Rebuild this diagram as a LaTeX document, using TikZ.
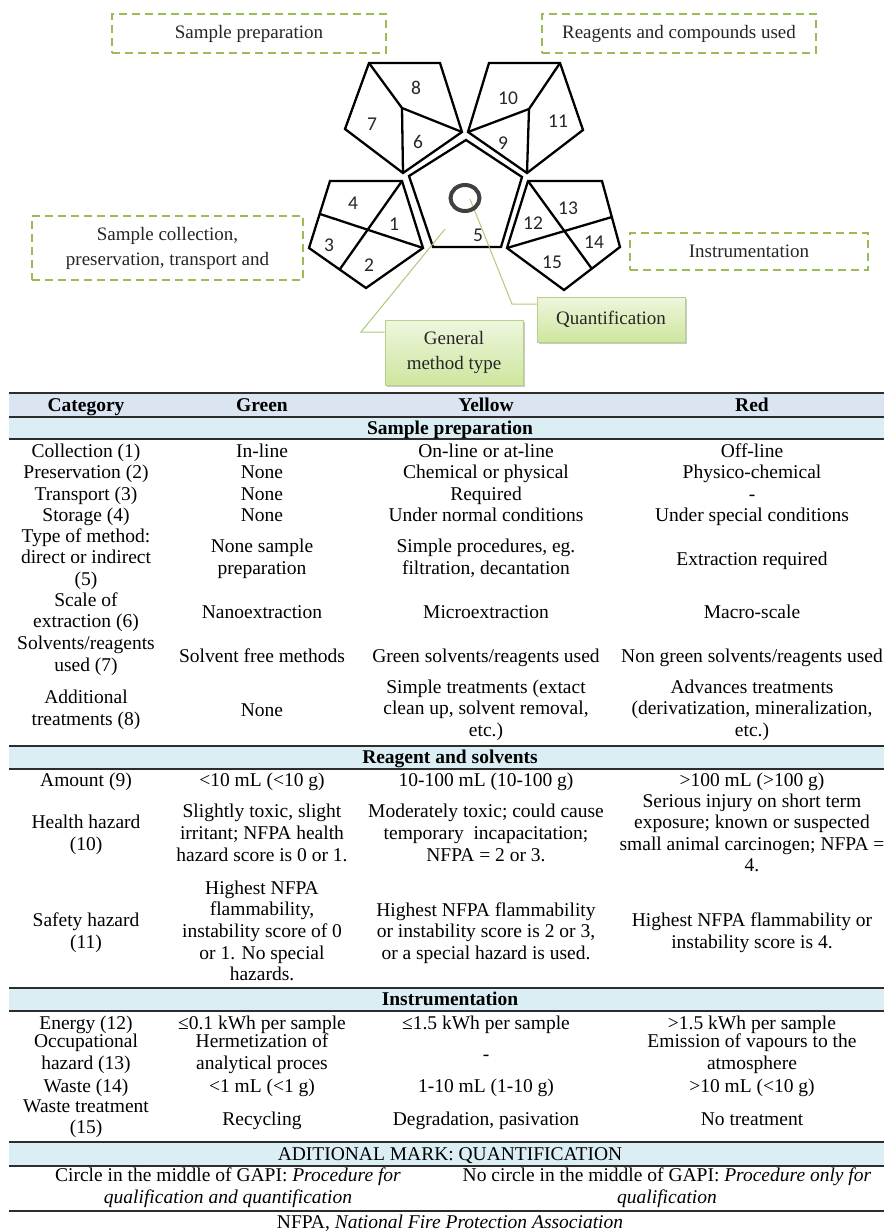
\documentclass[tikz,border=0pt]{standalone}
\usepackage{fontspec}
\setmainfont{Liberation Serif}
\newfontfamily\numfont{Carlito}
\usepackage{xcolor}
\usepackage{tikz}
\usetikzlibrary{shapes.geometric,shadows}

\definecolor{gapigreen}{RGB}{155,187,89}
\definecolor{calloutline}{RGB}{172,202,122}
\definecolor{calltop}{RGB}{238,246,222}
\definecolor{callbot}{RGB}{206,230,158}
\definecolor{hdrfill}{RGB}{219,229,241}
\definecolor{bandfill}{RGB}{218,238,243}
\definecolor{rulegray}{RGB}{45,45,45}
\newcommand{\tabfont}{\fontsize{19.5}{21.6}\selectfont}
\newcommand{\boxfont}{\fontsize{19}{25}\selectfont}
\newcommand{\cellstrut}{\rule[-4.5pt]{0pt}{21.3pt}}

\begin{document}
\begin{tikzpicture}[x=1pt, y=-1pt,
  groupbox/.style={draw=gapigreen, line width=2.4pt, dash pattern=on 8pt off 5pt, font=\boxfont, text=black!85, align=center, inner sep=0pt},
  callbox/.style={draw=gapigreen!70, line width=0.8pt, top color=calltop, bottom color=callbot, drop shadow={shadow xshift=2pt, shadow yshift=-2pt, opacity=0.35, fill=black!60}, font=\boxfont, text=black!85, align=center, inner sep=0pt},
  callout/.style={calloutline, line width=1pt},
  pent/.style={line width=2.3pt, line join=miter},
  ring/.style={draw=black!75, line width=4pt, ellipse, minimum width=29pt, minimum height=26pt, inner sep=0pt},
  num/.style={font=\numfont\fontsize{19.5}{20}\selectfont, text=black!85, inner sep=0pt},
  cell/.style={font=\tabfont, align=center, inner sep=0pt, execute at begin node=\cellstrut, execute at end node=\cellstrut},
  hdr/.style={cell, font=\tabfont\bfseries},
  rulethick/.style={rulegray, line width=1.6pt},
  rulethin/.style={rulegray, line width=1.1pt},
]
  \path[use as bounding box, fill=white] (0,0) rectangle (884,1231);

  % Group labels
  \node[groupbox, minimum width=274pt, minimum height=39pt] (sprep) at (249,33.5) {Sample preparation};
  \node[groupbox, minimum width=274pt, minimum height=39pt] (reag) at (679,33.5) {Reagents and compounds used};
  \node[groupbox, minimum width=271pt, minimum height=64pt] (scoll) at (167.5,248) {Sample collection,\\preservation, transport and};
  \node[groupbox, minimum width=238pt, minimum height=37pt] (instr) at (749,251.5) {Instrumentation};

  % Pentagons
  \draw[pent] (369,63) -- (440,63) -- (462,132) -- (403,173) -- (345,129) -- cycle;
  \draw[pent] (369,63) -- (402,108) -- (462,132);
  \draw[pent] (402,108) -- (403,173);

  \draw[pent] (489,63) -- (560,63) -- (583,130) -- (527,173) -- (468,132) -- cycle;
  \draw[pent] (560,63) -- (529,109) -- (468,132);
  \draw[pent] (529,109) -- (527,173);

  \draw[pent] (466,140) -- (522,177) -- (501,247) -- (433,247) -- (409,176) -- cycle;

  \draw[pent] (330,181) -- (402,181) -- (423,248) -- (366,288) -- (309,248) -- cycle;
  \draw[pent] (402,181) -- (340,269);
  \draw[pent] (320,214) -- (423,248);

  \draw[pent] (528,181) -- (602,181) -- (620,247) -- (564,290) -- (507,248) -- cycle;
  \draw[pent] (528,181) -- (592,269);
  \draw[pent] (612,217) -- (507,248);

  % Field numbers
  \node[num] (n1) at (394,224) {1};
  \node[num] (n2) at (369,265) {2};
  \node[num] (n3) at (329,245) {3};
  \node[num] (n4) at (353,203) {4};
  \node[num] (n5) at (478,235) {5};
  \node[num] (n6) at (418,142) {6};
  \node[num] (n7) at (372,124) {7};
  \node[num] (n8) at (416,88) {8};
  \node[num] (n9) at (503,143) {9};
  \node[num] (n10) at (508,98) {10};
  \node[num] (n11) at (558,121) {11};
  \node[num] (n12) at (533,223) {12};
  \node[num] (n13) at (568,208) {13};
  \node[num] (n14) at (594,242) {14};
  \node[num] (n15) at (552,262) {15};

  % Callouts
  \node[callbox, minimum width=148pt, minimum height=45pt] (quant) at (611,319.5) {Quantification};
  \node[callbox, minimum width=138pt, minimum height=65pt] (gmt) at (454,352.5) {General\\method type};
  \coordinate (qctr) at (470,199);
  \coordinate (qbend) at (512,304);
  \coordinate (gtip) at (445,229);
  \coordinate (gbend) at (361,332);
  \draw[callout] (qctr) -- (qbend) -- (qbend -| quant.west);
  \draw[callout] (gtip) -- (gbend) -- (gbend -| gmt.west);
  \node[ring] (qring) at (465,198) {};

  % Table bands and rules
  \fill[hdrfill] (9,393) rectangle (884,417);
  \fill[bandfill] (9,417) rectangle (884,439);
  \fill[bandfill] (9,746) rectangle (884,769);
  \fill[bandfill] (9,988) rectangle (884,1011);
  \fill[bandfill] (9,1142) rectangle (884,1166);
  \foreach \yy in {393,746,988,1142,1211} \draw[rulethick] (9,\yy) -- (884,\yy);
  \foreach \yy in {417,439,769,1011,1166} \draw[rulethin] (9,\yy) -- (884,\yy);

  % Header
  \node[hdr] (hcat) at (86,405) {Category};
  \node[hdr] (hgrn) at (262,405) {Green};
  \node[hdr] (hyel) at (486,405) {Yellow};
  \node[hdr] (hred) at (752,405) {Red};

  % Sample preparation
  \node[hdr] (bsp) at (450,428) {Sample preparation};
  \node[cell] (c1) at (86,451) {Collection (1)};
  \node[cell] (g1) at (262,451) {In-line};
  \node[cell] (y1) at (486,451) {On-line or at-line};
  \node[cell] (r1) at (752,451) {Off-line};
  \node[cell] (c2) at (86,472.6) {Preservation (2)};
  \node[cell] (g2) at (262,472.6) {None};
  \node[cell] (y2) at (486,472.6) {Chemical or physical};
  \node[cell] (r2) at (752,472.6) {Physico-chemical};
  \node[cell] (c3) at (86,494.2) {Transport (3)};
  \node[cell] (g3) at (262,494.2) {None};
  \node[cell] (y3) at (486,494.2) {Required};
  \node[cell] (r3) at (752,494.2) {-};
  \node[cell] (c4) at (86,515.8) {Storage (4)};
  \node[cell] (g4) at (262,515.8) {None};
  \node[cell] (y4) at (486,515.8) {Under normal conditions};
  \node[cell] (r4) at (752,515.8) {Under special conditions};
  \node[cell] (c5) at (86,559) {Type of method:\\direct or indirect\\(5)};
  \node[cell] (g5) at (262,559) {None sample\\preparation};
  \node[cell] (y5) at (486,559) {Simple procedures, eg.\\filtration, decantation};
  \node[cell] (r5) at (752,559) {Extraction required};
  \node[cell] (c6) at (86,612.5) {Scale of\\extraction (6)};
  \node[cell] (g6) at (262,612.5) {Nanoextraction};
  \node[cell] (y6) at (486,612.5) {Microextraction};
  \node[cell] (r6) at (752,612.5) {Macro-scale};
  \node[cell] (c7) at (86,656) {Solvents/reagents\\used (7)};
  \node[cell] (g7) at (262,656) {Solvent free methods};
  \node[cell] (y7) at (486,656) {Green solvents/reagents used};
  \node[cell] (r7) at (752,656) {Non green solvents/reagents used};
  \node[cell] (c8) at (86,710.2) {Additional\\treatments (8)};
  \node[cell] (g8) at (262,710.2) {None};
  \node[cell] (y8) at (486,710.2) {Simple treatments (extact\\clean up, solvent removal,\\etc.)};
  \node[cell] (r8) at (752,710.2) {Advances treatments\\(derivatization, mineralization,\\etc.)};

  % Reagent and solvents
  \node[hdr] (brs) at (450,757.5) {Reagent and solvents};
  \node[cell] (c9) at (86,780) {Amount (9)};
  \node[cell] (g9) at (262,780) {<10 mL (<10 g)};
  \node[cell] (y9) at (486,780) {10-100 mL (10-100 g)};
  \node[cell] (r9) at (752,780) {>100 mL (>100 g)};
  \node[cell] (c10) at (86,835) {Health hazard\\(10)};
  \node[cell] (g10) at (262,835) {Slightly toxic, slight\\irritant; NFPA health\\hazard score is 0 or 1.};
  \node[cell] (y10) at (486,835) {Moderately toxic; could cause\\temporary~ incapacitation;\\NFPA = 2 or 3.};
  \node[cell] (r10) at (752,835) {Serious injury on short term\\exposure; known or suspected\\small animal carcinogen; NFPA =\\4.};
  \node[cell] (c11) at (86,933) {Safety hazard\\(11)};
  \node[cell] (g11) at (262,933) {Highest NFPA\\flammability,\\instability score of 0\\or 1. No special\\hazards.};
  \node[cell] (y11) at (486,933) {Highest NFPA flammability\\or instability score is 2 or 3,\\or a special hazard is used.};
  \node[cell] (r11) at (752,933) {Highest NFPA flammability or\\instability score is 4.};

  % Instrumentation
  \node[hdr] (bin) at (450,999.5) {Instrumentation};
  \node[cell] (c12) at (86,1023) {Energy (12)};
  \node[cell] (g12) at (262,1023) {≤0.1 kWh per sample};
  \node[cell] (y12) at (486,1023) {≤1.5 kWh per sample};
  \node[cell] (r12) at (752,1023) {>1.5 kWh per sample};
  \node[cell] (c13) at (86,1054) {Occupational\\hazard (13)};
  \node[cell] (g13) at (262,1054) {Hermetization of\\analytical proces};
  \node[cell] (y13) at (486,1054) {-};
  \node[cell] (r13) at (752,1054) {Emission of vapours to the\\atmosphere};
  \node[cell] (c14) at (86,1086) {Waste (14)};
  \node[cell] (g14) at (262,1086) {<1 mL (<1 g)};
  \node[cell] (y14) at (486,1086) {1-10 mL (1-10 g)};
  \node[cell] (r14) at (752,1086) {>10 mL (<10 g)};
  \node[cell] (c15) at (86,1119) {Waste treatment\\(15)};
  \node[cell] (g15) at (262,1119) {Recycling};
  \node[cell] (y15) at (486,1119) {Degradation, pasivation};
  \node[cell] (r15) at (752,1119) {No treatment};

  % Quantification mark
  \node[cell] (bq) at (450,1154) {ADITIONAL MARK: QUANTIFICATION};
  \node[cell] (qyes) at (228,1188) {Circle in the middle of GAPI: \textit{Procedure for}\\\textit{qualification and quantification}};
  \node[cell] (qno) at (667,1188) {No circle in the middle of GAPI: \textit{Procedure only for}\\\textit{qualification}};
  \node[cell] (nfpa) at (450,1222) {NFPA, \textit{National Fire Protection Association}};
\end{tikzpicture}
\end{document}
